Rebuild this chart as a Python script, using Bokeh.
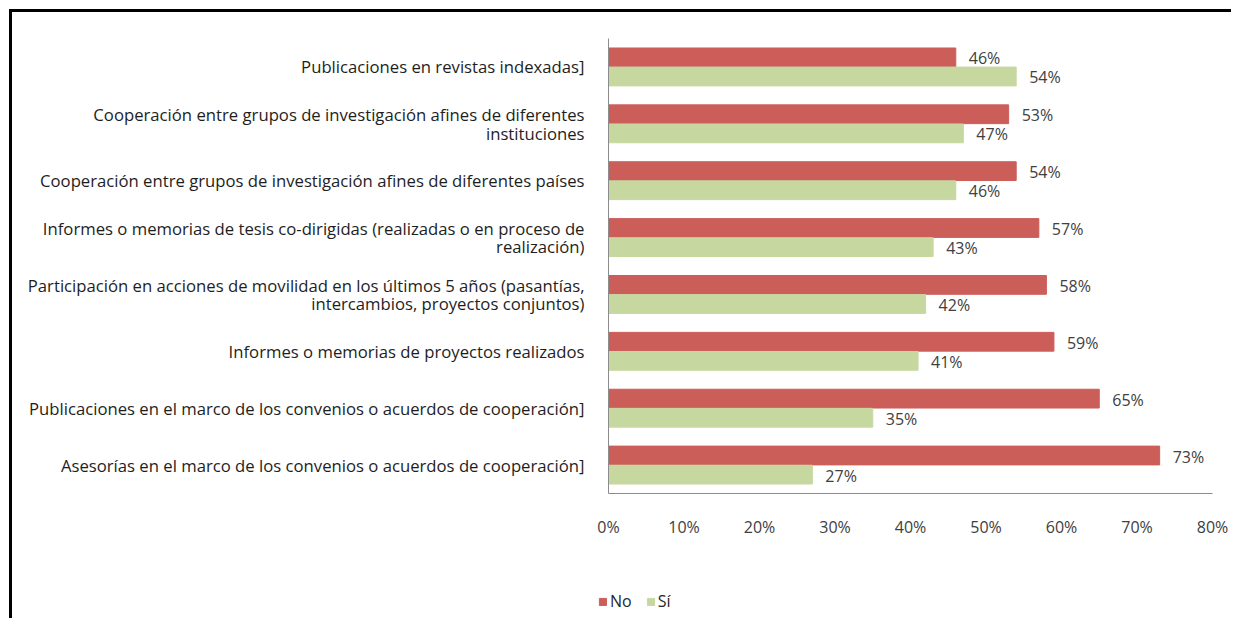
from bokeh.plotting import figure
from bokeh.models import (FactorRange, Range1d, ColumnDataSource, LabelSet, Label, Legend, LegendItem,
                          FixedTicker, PrintfTickFormatter)
from bokeh.layouts import column
from bokeh.transform import dodge
from bokeh.core.properties import value
from bokeh.embed import file_html
from bokeh.resources import INLINE

categories = [
    "Publicaciones en revistas indexadas]",
    "Cooperación entre grupos de investigación afines de diferentes\ninstituciones",
    "Cooperación entre grupos de investigación afines de diferentes países",
    "Informes o memorias de tesis co-dirigidas (realizadas o en proceso de\nrealización)",
    "Participación en acciones de movilidad en los últimos 5 años (pasantías,\nintercambios, proyectos conjuntos)",
    "Informes o memorias de proyectos realizados",
    "Publicaciones en el marco de los convenios o acuerdos de cooperación]",
    "Asesorías en el marco de los convenios o acuerdos de cooperación]",
]
no_values = [46, 53, 54, 57, 58, 59, 65, 73]
si_values = [54, 47, 46, 43, 42, 41, 35, 27]
x_ticks = [0, 10, 20, 30, 40, 50, 60, 70, 80]
series_names = ["No", "Sí"]
axis_title = "Porcentaje"

RED = "#CC5E5A"
GREEN = "#C6D8A0"
FONT = "Open Sans"

src = ColumnDataSource(dict(
    cat=categories,
    no=no_values,
    si=si_values,
    no_lbl=[f"{v}%" for v in no_values],
    si_lbl=[f"{v}%" for v in si_values],
))

# ---- main chart ----
p = figure(
    frame_width=601, frame_height=452,
    y_range=FactorRange(factors=list(reversed(categories)), range_padding=0),
    x_range=(0, 80),
    output_backend="svg", toolbar_location=None,
    min_border_left=596, min_border_right=22, min_border_top=26, min_border_bottom=60,
)
p.styles = {"border-top": "3px solid black", "border-left": "3px solid black",
            "margin-left": "9px", "margin-top": "9px"}
p.outline_line_color = None
p.xgrid.visible = False
p.ygrid.visible = False

p.hbar(y=dodge("cat", 0.168, range=p.y_range), right="no", left=0, height=0.33,
       color=RED, source=src)
p.hbar(y=dodge("cat", -0.168, range=p.y_range), right="si", left=0, height=0.33,
       color=GREEN, source=src)

for col, lbl, off in (("no", "no_lbl", 0.168), ("si", "si_lbl", -0.168)):
    p.add_layout(LabelSet(x=col, y=dodge("cat", off, range=p.y_range), text=lbl, source=src,
                          x_offset=13, y_offset=-1, text_baseline="middle",
                          text_font=value(FONT), text_font_size="16px",
                          text_color="#404040"))

xa = p.xaxis[0]
xa.ticker = FixedTicker(ticks=x_ticks)
xa.formatter = PrintfTickFormatter(format="%d%%")
xa.major_tick_line_color = None
xa.minor_tick_line_color = None
xa.axis_line_color = "#8C8C8C"
xa.major_label_standoff = 16
xa.major_label_text_font = FONT
xa.major_label_text_font_size = "16px"
xa.major_label_text_color = "#404040"

ya = p.yaxis[0]
ya.major_tick_line_color = None
ya.minor_tick_line_color = None
ya.axis_line_color = "#8C8C8C"
ya.major_label_standoff = 18
ya.major_label_text_font = FONT
ya.major_label_text_font_size = "16.7px"
ya.major_label_text_color = "#1E1E1E"
ya.major_label_text_line_height = 0.82

# ---- footer strip: legend and axis title ----
p2 = figure(
    frame_width=1222, frame_height=68,
    x_range=Range1d(0, 1222), y_range=Range1d(0, 68),
    x_axis_type=None, y_axis_type=None,
    output_backend="svg", toolbar_location=None, min_border=0,
)
p2.styles = {"border-left": "3px solid black", "margin-left": "9px"}
p2.outline_line_color = None

# hidden renderers that only supply the legend swatches
l_no = p2.hbar(y="no", right="no", left=0, height=1, color=RED, source=src, visible=False)
l_si = p2.hbar(y="si", right="si", left=0, height=1, color=GREEN, source=src, visible=False)

legend = Legend(items=[LegendItem(label=series_names[0], renderers=[l_no]),
                       LegendItem(label=series_names[1], renderers=[l_si])],
                location=(586, 6), orientation="horizontal",
                glyph_width=9, glyph_height=9, label_text_font=FONT,
                label_text_font_size="16px", label_text_color="#262626",
                border_line_color=None, background_fill_alpha=0, padding=0,
                spacing=14, label_standoff=3, margin=0,
                inactive_fill_alpha=0, click_policy="none")
p2.add_layout(legend, "center")

p2.add_layout(Label(x=1050, y=30, x_units="screen", y_units="screen", text=axis_title,
                    text_font=FONT, text_font_size="15px", text_font_style="bold",
                    text_color="#000000", text_baseline="middle"))

layout = column(p, p2, spacing=0)
open("out.html", "w").write(file_html(layout, INLINE))
